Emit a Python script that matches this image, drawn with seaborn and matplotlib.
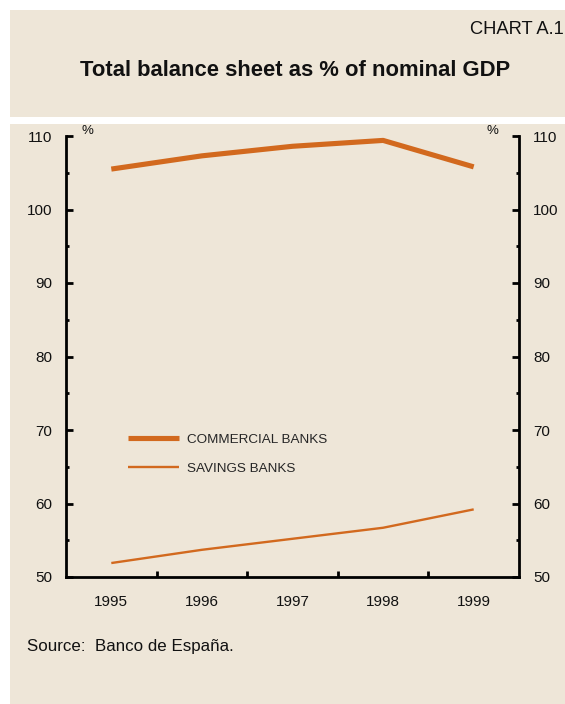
import matplotlib
matplotlib.use("Agg")
import matplotlib.pyplot as plt
from matplotlib.patches import Rectangle
from matplotlib.ticker import FixedLocator
import seaborn as sns
import pandas as pd

years = [1995, 1996, 1997, 1998, 1999]
commercial_banks = [105.5, 107.3, 108.6, 109.4, 105.8]
savings_banks = [51.9, 53.7, 55.2, 56.7, 59.2]
y_ticks = [50, 60, 70, 80, 90, 100, 110]
series_names = ["COMMERCIAL BANKS", "SAVINGS BANKS"]

sns.set_theme(style="white")
plt.rcParams["font.family"] = ["Liberation Sans", "DejaVu Sans"]

BEIGE = "#EEE6D8"
ORANGE = "#D2691E"
W, H = 565, 704

fig = plt.figure(figsize=(W / 100, H / 100), dpi=100, facecolor="white")

# background panels (pixel coordinates converted to figure fractions)
def panel(x0, y0, x1, y1):
    fig.patches.append(Rectangle((x0 / W, 1 - y1 / H), (x1 - x0) / W, (y1 - y0) / H,
                                 transform=fig.transFigure, facecolor=BEIGE,
                                 edgecolor="none", zorder=-5))

panel(10, 10, 565, 117)
panel(10, 124, 565, 704)

fig.text(564 / W, 1 - 29.5 / H, "CHART A.1", ha="right", va="center", fontsize=13.2, color="#111111")
fig.text(295 / W, 1 - 70 / H, "Total balance sheet as % of nominal GDP", ha="center", va="center",
         fontsize=15.8, fontweight="bold", color="#111111")
fig.text(27 / W, 1 - 647 / H, "Source:  Banco de España.", ha="left", va="center", fontsize=12.2, color="#111111")

ax = fig.add_axes([66 / W, 1 - 577 / H, (519 - 66) / W, (577 - 136) / H])
ax.set_facecolor("none")
ax.set_zorder(2)

df = pd.DataFrame({
    "year": years * 2,
    "value": commercial_banks + savings_banks,
    "series": [series_names[0]] * len(years) + [series_names[1]] * len(years),
})

sns.lineplot(data=df[df.series == series_names[0]], x="year", y="value", ax=ax,
             color=ORANGE, linewidth=3.7, label=series_names[0], solid_capstyle="butt")
sns.lineplot(data=df[df.series == series_names[1]], x="year", y="value", ax=ax,
             color=ORANGE, linewidth=1.7, label=series_names[1], solid_capstyle="butt")

ax.set_xlim(1994.5, 1999.5)
ax.set_ylim(50, 110)
ax.set_xlabel("")
ax.set_ylabel("")

ax.xaxis.set_major_locator(FixedLocator(years))
ax.set_xticklabels([str(y) for y in years])
ax.xaxis.set_minor_locator(FixedLocator([y + 0.5 for y in years[:-1]]))
ax.yaxis.set_major_locator(FixedLocator(y_ticks))
ax.yaxis.set_minor_locator(FixedLocator([v + 5 for v in y_ticks[:-1]]))

ax.tick_params(axis="x", which="major", length=0, pad=13, labelsize=11, colors="#111111")
ax.tick_params(axis="x", which="minor", direction="in", length=4, width=2, bottom=True, color="black")
ax.tick_params(axis="y", which="both", direction="in", left=True, right=True,
               labelleft=True, labelright=True, color="black")
ax.tick_params(axis="y", which="major", length=5, width=2, pad=10, labelsize=11, labelcolor="#111111")
ax.tick_params(axis="y", which="minor", length=2.5, width=2)

for side in ["left", "right", "bottom"]:
    ax.spines[side].set_visible(True)
    ax.spines[side].set_color("black")
    ax.spines[side].set_linewidth(2)
ax.spines["top"].set_visible(False)

ax.text((87 - 66) / 453, 1.012, "%", transform=ax.transAxes, ha="center", va="center", fontsize=9.5, color="#111111")
ax.text((492 - 66) / 453, 1.012, "%", transform=ax.transAxes, ha="center", va="center", fontsize=9.5, color="#111111")

ax.legend(loc="upper left", bbox_to_anchor=((128 - 66) / 453, (577 - 433.5) / 441),
          frameon=False, fontsize=9.7, handlelength=3.8, handletextpad=0.6,
          labelspacing=1.22, borderpad=0, borderaxespad=0)

fig.savefig("out.png", dpi=100, facecolor="white")
